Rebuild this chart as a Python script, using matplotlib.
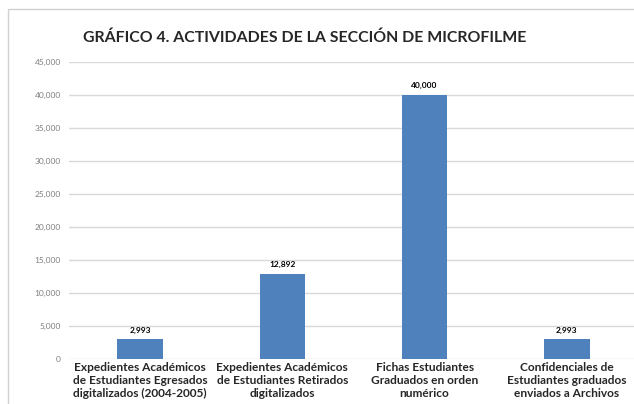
import matplotlib
matplotlib.use("Agg")
import matplotlib.pyplot as plt
from matplotlib.ticker import FuncFormatter
from matplotlib.patches import Rectangle

categorias = [
    "Expedientes Académicos\nde Estudiantes Egresados\ndigitalizados (2004-2005)",
    "Expedientes Académicos\nde Estudiantes Retirados\ndigitalizados",
    "Fichas Estudiantes\nGraduados en orden\nnumérico",
    "Confidenciales de\nEstudiantes graduados\nenviados a Archivos",
]
valores = [2993, 12892, 40000, 2993]
titulo = "GRÁFICO 4. ACTIVIDADES DE LA SECCIÓN DE MICROFILME"

plt.rcParams["font.family"] = ["Lato", "DejaVu Sans"]

W, H = 634, 404
fig = plt.figure(figsize=(W / 100, H / 100), dpi=100)
fig.patch.set_facecolor("white")

# marco del gráfico (recortado a la derecha y abajo)
fig.patches.append(Rectangle((8 / W, -0.1), 1.2, 1 - 9 / H + 0.1, transform=fig.transFigure,
                             fill=False, edgecolor="#D0D0D0", linewidth=1.0))

ax = fig.add_axes([69 / W, 1 - 359 / H, (638 - 69) / W, (359 - 62) / H])
x = range(len(valores))
bars = ax.bar(x, valores, width=0.32, color="#4F81BD", zorder=3)

ax.set_xlim(-0.5, len(valores) - 0.5)
ax.set_ylim(0, 45000)
ax.set_yticks(range(0, 45001, 5000))
ax.yaxis.set_major_formatter(FuncFormatter(lambda v, p: f"{int(v):,}"))
ax.grid(axis="y", color="#D9D9D9", linewidth=1.0, zorder=0)
ax.set_axisbelow(True)
for s in ax.spines.values():
    s.set_visible(False)
ax.tick_params(axis="y", length=0, pad=6, labelsize=6, labelcolor="#7F7F7F")
ax.tick_params(axis="x", length=0, pad=2)
ax.set_xticks(list(x))
ax.set_xticklabels(categorias, fontsize=8.6, fontweight="bold", color="#262626",
                   linespacing=1.25)

for b, v in zip(bars, valores):
    ax.annotate(f"{v:,}", (b.get_x() + b.get_width() / 2, v), xytext=(0, 4),
                textcoords="offset points", ha="center", va="bottom",
                fontsize=6, fontweight="bold", color="black")

fig.text(83 / W, 1 - 38 / H, titulo, fontsize=11.4, fontweight="bold",
         color="#262626", ha="left", va="center")

fig.savefig("out.png", dpi=100)
